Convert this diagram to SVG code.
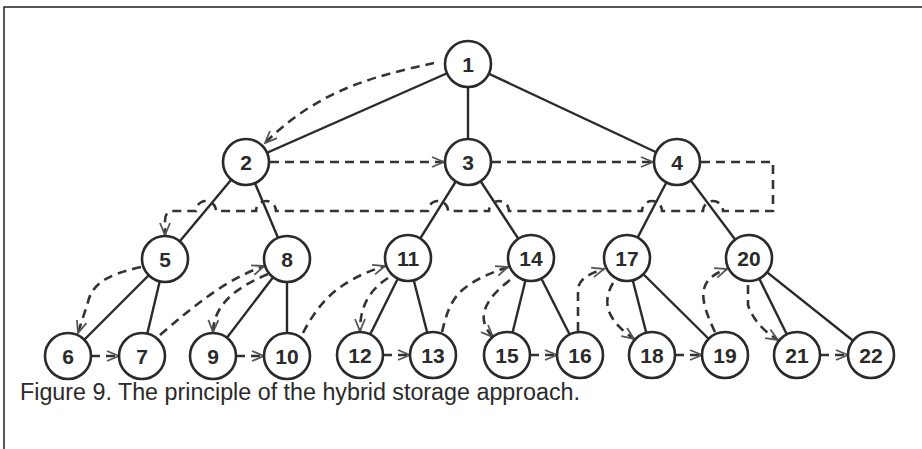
<svg xmlns="http://www.w3.org/2000/svg" width="922" height="449" viewBox="0 0 922 449">
<style>
.edge{stroke:#2a2a2a;stroke-width:2.4;fill:none}
.dash{stroke:#333;stroke-width:2.6;fill:none;stroke-dasharray:9 6}
.node circle{fill:#fff;stroke:#2a2a2a;stroke-width:2.6}
.node text{font-family:"Liberation Sans",Arial,sans-serif;font-weight:bold;font-size:21px;fill:#2a2a2a;text-anchor:middle}
.frame{stroke:#222;stroke-width:1.5;fill:none}
.caption{font-family:"Liberation Sans",Arial,sans-serif;font-size:23px;fill:#2a2a2a}
</style>
<defs>
<marker id="arr" viewBox="0 0 14 12" markerWidth="14" markerHeight="12" refX="13" refY="6" orient="auto" markerUnits="userSpaceOnUse">
<path d="M1,1 L13,6 L1,11" fill="none" stroke="#555" stroke-width="1.8"/>
</marker>
</defs>
<rect width="922" height="449" fill="#fff"/>
<path class="frame" d="M4,449 V7 H922"/>
<g id="connectors">
<g id="tree-edges">
<line class="edge" x1="468" y1="64" x2="246" y2="162"/>
<line class="edge" x1="468" y1="64" x2="468" y2="162"/>
<line class="edge" x1="468" y1="64" x2="677" y2="162"/>
<line class="edge" x1="246" y1="162" x2="165" y2="259"/>
<line class="edge" x1="246" y1="162" x2="287" y2="259"/>
<line class="edge" x1="468" y1="162" x2="408" y2="258"/>
<line class="edge" x1="468" y1="162" x2="531" y2="258"/>
<line class="edge" x1="677" y1="162" x2="627" y2="258"/>
<line class="edge" x1="677" y1="162" x2="749" y2="258"/>
<line class="edge" x1="165" y1="259" x2="68" y2="356"/>
<line class="edge" x1="165" y1="259" x2="142" y2="356"/>
<line class="edge" x1="287" y1="259" x2="213" y2="356"/>
<line class="edge" x1="287" y1="259" x2="287" y2="356"/>
<line class="edge" x1="408" y1="258" x2="360" y2="355"/>
<line class="edge" x1="408" y1="258" x2="433" y2="355"/>
<line class="edge" x1="531" y1="258" x2="507" y2="355"/>
<line class="edge" x1="531" y1="258" x2="580" y2="355"/>
<line class="edge" x1="627" y1="258" x2="652" y2="355"/>
<line class="edge" x1="627" y1="258" x2="725" y2="355"/>
<line class="edge" x1="749" y1="258" x2="797" y2="355"/>
<line class="edge" x1="749" y1="258" x2="871" y2="355"/>
</g>
<g id="thread-links">
<path class="dash" marker-end="url(#arr)" d="M434,63 C380,75 320,88 265,143"/>
<path class="dash" marker-end="url(#arr)" d="M270,162 H444"/>
<path class="dash" marker-end="url(#arr)" d="M492,162 H653"/>
<path class="dash" marker-end="url(#arr)" d="M701,162 H773 V211 H723 A10 10 0 0 0 703 211 H662 A10 10 0 0 0 642 211 H509 A10 10 0 0 0 489 211 H448 A10 10 0 0 0 428 211 H276 A10 10 0 0 0 256 211 H216 A10 10 0 0 0 196 211 H173 Q165 211 165 221 V235"/>
<path class="dash" marker-end="url(#arr)" d="M141,267 C105,275 92,285 88,302 L78,333"/>
<path class="dash" marker-end="url(#arr)" d="M160,335 C195,305 225,280 264,266"/>
<path class="dash" marker-end="url(#arr)" d="M268,274 C240,286 214,302 213,332"/>
<path class="dash" marker-end="url(#arr)" d="M303,333 C320,300 340,280 385,266"/>
<path class="dash" marker-end="url(#arr)" d="M388,278 C370,290 360,305 360,331"/>
<path class="dash" marker-end="url(#arr)" d="M442,332 C450,300 455,285 508,267"/>
<path class="dash" marker-end="url(#arr)" d="M510,280 Q468,312 493,337"/>
<path class="dash" marker-end="url(#arr)" d="M578,331 V288 Q580,276 604,269"/>
<path class="dash" marker-end="url(#arr)" d="M613,283 C600,305 610,322 634,339"/>
<path class="dash" marker-end="url(#arr)" d="M715,332 C700,300 695,280 727,269"/>
<path class="dash" marker-end="url(#arr)" d="M748,285 V305 Q755,326 778,340"/>
<path class="dash" marker-end="url(#arr)" d="M91,356 H119"/>
<path class="dash" marker-end="url(#arr)" d="M236,356 H264"/>
<path class="dash" marker-end="url(#arr)" d="M383,355 H410"/>
<path class="dash" marker-end="url(#arr)" d="M530,355 H557"/>
<path class="dash" marker-end="url(#arr)" d="M675,355 H702"/>
<path class="dash" marker-end="url(#arr)" d="M820,355 H848"/>
</g>
</g>
<g id="n1" class="node"><circle cx="468" cy="64" r="23"/><text x="468" y="72">1</text></g>
<g id="n2" class="node"><circle cx="246" cy="162" r="23"/><text x="246" y="170">2</text></g>
<g id="n3" class="node"><circle cx="468" cy="162" r="23"/><text x="468" y="170">3</text></g>
<g id="n4" class="node"><circle cx="677" cy="162" r="23"/><text x="677" y="170">4</text></g>
<g id="n5" class="node"><circle cx="165" cy="259" r="23"/><text x="165" y="267">5</text></g>
<g id="n8" class="node"><circle cx="287" cy="259" r="23"/><text x="287" y="267">8</text></g>
<g id="n11" class="node"><circle cx="408" cy="258" r="23"/><text x="408" y="266">11</text></g>
<g id="n14" class="node"><circle cx="531" cy="258" r="23"/><text x="531" y="266">14</text></g>
<g id="n17" class="node"><circle cx="627" cy="258" r="23"/><text x="627" y="266">17</text></g>
<g id="n20" class="node"><circle cx="749" cy="258" r="23"/><text x="749" y="266">20</text></g>
<g id="n6" class="node"><circle cx="68" cy="356" r="23"/><text x="68" y="364">6</text></g>
<g id="n7" class="node"><circle cx="142" cy="356" r="23"/><text x="142" y="364">7</text></g>
<g id="n9" class="node"><circle cx="213" cy="356" r="23"/><text x="213" y="364">9</text></g>
<g id="n10" class="node"><circle cx="287" cy="356" r="23"/><text x="287" y="364">10</text></g>
<g id="n12" class="node"><circle cx="360" cy="355" r="23"/><text x="360" y="363">12</text></g>
<g id="n13" class="node"><circle cx="433" cy="355" r="23"/><text x="433" y="363">13</text></g>
<g id="n15" class="node"><circle cx="507" cy="355" r="23"/><text x="507" y="363">15</text></g>
<g id="n16" class="node"><circle cx="580" cy="355" r="23"/><text x="580" y="363">16</text></g>
<g id="n18" class="node"><circle cx="652" cy="355" r="23"/><text x="652" y="363">18</text></g>
<g id="n19" class="node"><circle cx="725" cy="355" r="23"/><text x="725" y="363">19</text></g>
<g id="n21" class="node"><circle cx="797" cy="355" r="23"/><text x="797" y="363">21</text></g>
<g id="n22" class="node"><circle cx="871" cy="355" r="23"/><text x="871" y="363">22</text></g>
<text class="caption" x="20" y="400" textLength="560" lengthAdjust="spacingAndGlyphs">Figure 9. The principle of the hybrid storage approach.</text>
</svg>
